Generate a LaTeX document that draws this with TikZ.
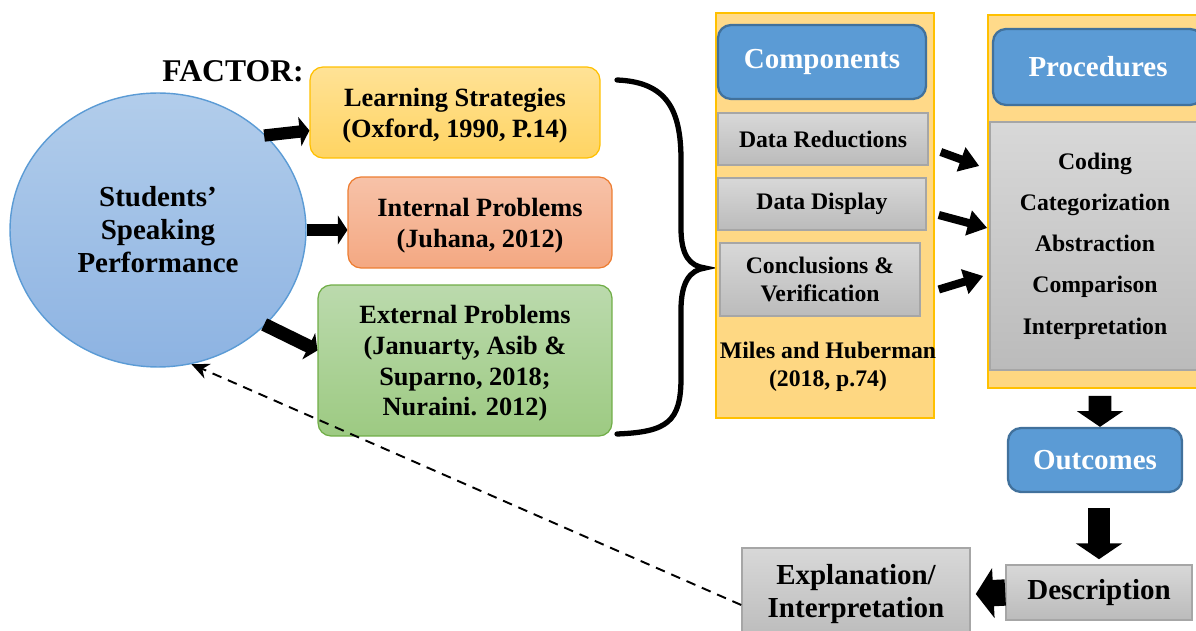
\documentclass[tikz,border=0pt]{standalone}
\usepackage{fontspec}
\setmainfont{Liberation Serif}
\usetikzlibrary{shapes.geometric,arrows.meta}

\definecolor{hdblue}{HTML}{5B9BD5}
\definecolor{hdline}{HTML}{41719C}
\definecolor{spktop}{HTML}{B2CDEB}
\definecolor{spkbot}{HTML}{8DB3E2}
\definecolor{lstop}{HTML}{FFE296}
\definecolor{lsbot}{HTML}{FFD462}
\definecolor{lsline}{HTML}{FFC000}
\definecolor{iptop}{HTML}{F7C2A8}
\definecolor{ipbot}{HTML}{F4A882}
\definecolor{ipline}{HTML}{ED7D31}
\definecolor{eptop}{HTML}{BBDAAD}
\definecolor{epbot}{HTML}{9DCA82}
\definecolor{epline}{HTML}{70AD47}
\definecolor{colfill}{HTML}{FED781}
\definecolor{coltop}{HTML}{FFDA8A}
\definecolor{graytop}{HTML}{D8D8D8}
\definecolor{graybot}{HTML}{BBBBBB}
\definecolor{grayline}{HTML}{A6A6A6}

\tikzset{
  txt/.style={font=\fontsize{15}{17.5}\selectfont\bfseries, align=center},
  bigtxt/.style={font=\fontsize{16.5}{19}\selectfont\bfseries, align=center},
  smalltxt/.style={font=\fontsize{13.5}{16.5}\selectfont\bfseries, align=center},
  factorbox/.style={txt, draw, rounded corners=0.26cm, line width=0.7pt, inner sep=0pt, text depth=0pt},
  headbox/.style={bigtxt, draw=hdline, fill=hdblue, text=white, rounded corners=0.26cm, line width=1.3pt, inner sep=0pt},
  graybox/.style={draw=grayline, top color=graytop, bottom color=graybot, line width=0.9pt, inner sep=0pt},
  column/.style={draw=lsline, top color=coltop, bottom color=colfill, line width=0.9pt},
  blockarrow/.style={line width=7pt, -{Triangle[length=5.5pt,width=16.5pt]}},
  midarrow/.style={line width=4.6pt, -{Triangle[length=11pt,width=14pt]}},
  bigarrow/.style={line width=13pt, -{Triangle[length=9pt,width=26pt]}},
}

\begin{document}
\begin{tikzpicture}[x=0.02cm, y=-0.02cm]
  \useasboundingbox (0,0) rectangle (1196,631);

  % left part: performance and its factors
  \node[ellipse, draw=hdblue, line width=0.8pt, top color=spktop, bottom color=spkbot,
        minimum width=5.92cm, minimum height=5.48cm, bigtxt,
        font=\fontsize{16.5}{18.8}\selectfont\bfseries] (spk) at (158,230)
        {Students’\\Speaking\\Performance};

  \node[font=\fontsize{18}{20}\selectfont\bfseries] (factor) at (233,71) {FACTOR:};

  \node[factorbox, draw=lsline, top color=lstop, bottom color=lsbot,
        minimum width=5.8cm, minimum height=1.82cm] (ls) at (455,112.5)
        {Learning Strategies\\(Oxford, 1990, P.14)};
  \node[factorbox, draw=ipline, top color=iptop, bottom color=ipbot,
        minimum width=5.28cm, minimum height=1.82cm] (ip) at (480,222.5)
        {Internal Problems\\(Juhana, 2012)};
  \node[factorbox, draw=epline, top color=eptop, bottom color=epbot,
        minimum width=5.88cm, minimum height=3.02cm] (ep) at (465,360.5)
        {External Problems\\(Januarty, Asib \&\\Suparno, 2018;\\Nuraini. 2012)};

  \draw[blockarrow] ([shift={(-4,-2)}]spk.40) -- ([yshift=-0.36cm]ls.west);
  \draw[blockarrow] (spk.east) -- (spk.east -| ip.west);
  \draw[blockarrow, line width=7.6pt] ([shift={(-4,2)}]spk.-40) -- ([yshift=0.2cm]ep.west);

  % the brace
  \draw[line width=3pt, line cap=round]
    (617,80) .. controls (667,82) and (681,110) .. (681,160) -- (681,228)
    .. controls (681,256) and (690,266) .. (705,268)
    .. controls (690,270) and (681,282) .. (681,310) -- (681,378)
    .. controls (681,422) and (667,432) .. (617,434);

  % components column
  \node[column, minimum width=4.36cm, minimum height=8.1cm] (comcol) at (825,215.5) {};
  \node[headbox, minimum width=4.16cm, minimum height=1.48cm] (comp) at (822,62) {Components};
  \node[graybox, smalltxt, minimum width=4.2cm, minimum height=1.04cm] (dred) at (823,139) {Data Reductions};
  \node[graybox, smalltxt, minimum width=4.16cm, minimum height=1.04cm] (ddis) at (822,204) {Data Display};
  \node[graybox, smalltxt, minimum width=4.0cm, minimum height=1.46cm,
        font=\fontsize{13.5}{16.4}\selectfont\bfseries] (dcon) at (820,279.5)
        {Conclusions \&\\Verification};
  \node[smalltxt, font=\fontsize{13.5}{15.9}\selectfont\bfseries] (miles) at (828,367)
        {Miles and Huberman\\(2018, p.74)};

  % procedures column
  \node[column, minimum width=4.24cm, minimum height=7.46cm] (procol) at (1094,201.5) {};
  \node[headbox, minimum width=4.2cm, minimum height=1.52cm] (proc) at (1098,67) {Procedures};
  \node[graybox, minimum width=4.2cm, minimum height=4.96cm, align=center,
        font=\fontsize{13.5}{23.5}\selectfont\bfseries] (steps) at (1095,246)
        {Coding\\Categorization\\Abstraction\\Comparison\\Interpretation};

  \draw[midarrow] ([shift={(12,13)}]dred.east) -- ([shift={(-10,-80)}]steps.west);
  \draw[midarrow] ([shift={(12,11)}]ddis.east) -- ([shift={(-2,-18)}]steps.west);
  \draw[midarrow] ([shift={(18,10)}]dcon.east) -- ([shift={(-6,30)}]steps.west);

  % outcomes and the way back
  \node[headbox, minimum width=3.48cm, minimum height=1.28cm] (outc) at (1095,460) {Outcomes};
  \node[graybox, bigtxt, minimum width=3.72cm, minimum height=1.1cm] (desc) at (1099,592.5) {Description};
  \node[graybox, bigtxt, minimum width=4.56cm, minimum height=1.84cm] (expl) at (856,594)
        {Explanation/\\Interpretation};

  \draw[bigarrow] ([shift={(6,7)}]procol.south) -- ([xshift=0.1cm]outc.north);
  \draw[bigarrow] ([shift={(4,15)}]outc.south) -- ([shift={(0,-5)}]desc.north);
  \draw[bigarrow, line width=15pt, -{Triangle[length=10pt,width=28pt]}] (desc.west) -- ([xshift=0.1cm]expl.east);

  \draw[line width=1.1pt, dash pattern=on 5.5pt off 4pt, -{Stealth[length=10pt 0 0,width=9pt 0 0]}]
    ([yshift=-0.22cm]expl.west) -- (spk.-76);
\end{tikzpicture}
\end{document}
